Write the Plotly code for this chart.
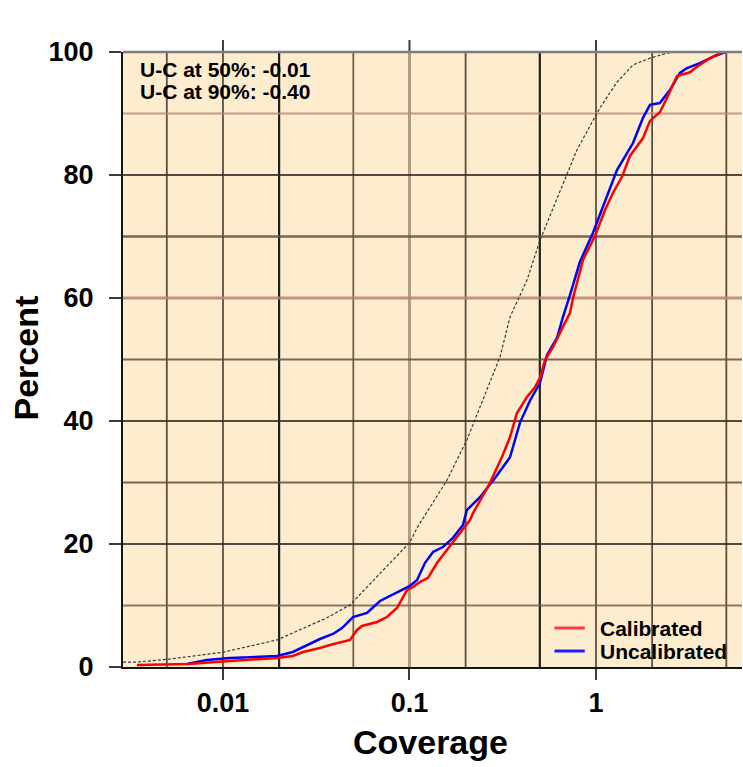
import plotly.graph_objects as go

# ---------------- data ----------------
calib_x = [0.00346, 0.00649, 0.0109, 0.0195, 0.0237, 0.0269, 0.0331, 0.0375, 0.048, 0.0523,
           0.0556, 0.067, 0.0757, 0.0857, 0.097, 0.1044, 0.1138, 0.1257, 0.1404, 0.165,
           0.1865, 0.211, 0.219, 0.270, 0.317, 0.346, 0.377, 0.4266, 0.471, 0.501,
           0.533, 0.588, 0.665, 0.726, 0.753, 0.852, 0.988, 1.118, 1.234, 1.379,
           1.521, 1.787, 1.948, 2.20, 2.40, 2.72, 3.19, 3.48, 4.09, 4.62, 4.9]
calib_y = [0.33, 0.49, 0.98, 1.46, 1.79, 2.44, 3.09, 3.58, 4.39, 6.02,
           6.67, 7.32, 8.13, 9.59, 12.5, 13.0, 13.8, 14.5, 16.9, 19.7,
           21.8, 23.9, 25.0, 29.9, 34.5, 37.4, 41.3, 43.9, 45.5, 47.0,
           49.9, 52.0, 55.3, 57.6, 60.0, 66.2, 70.1, 74.3, 77.1, 79.7,
           83.1, 86.0, 88.8, 90.2, 92.5, 96.1, 96.7, 97.6, 99.0, 99.8, 100.0]

uncal_x = [0.00641, 0.0082, 0.0109, 0.0195, 0.0237, 0.0282, 0.0331, 0.0389, 0.0435, 0.0498,
           0.0592, 0.0695, 0.0857, 0.1006, 0.1097, 0.121, 0.1337, 0.151, 0.171, 0.1936,
           0.203, 0.2387, 0.287, 0.346, 0.391, 0.4426, 0.501, 0.546, 0.618, 0.665,
           0.726, 0.821, 0.964, 1.09, 1.189, 1.296, 1.58, 1.787, 1.948, 2.20,
           2.49, 2.82, 3.08, 3.61, 4.24, 4.80, 4.95]
uncal_y = [0.49, 1.14, 1.46, 1.79, 2.44, 3.58, 4.55, 5.37, 6.34, 8.13,
           8.78, 10.73, 12.2, 13.2, 14.1, 16.9, 18.7, 19.5, 21.0, 23.1,
           25.5, 27.6, 30.7, 34.1, 39.7, 43.3, 46.2, 50.7, 53.5, 56.9,
           60.5, 65.9, 70.6, 74.8, 77.6, 80.8, 85.2, 89.3, 91.4, 91.7,
           93.8, 96.6, 97.4, 98.2, 99.2, 99.8, 100.0]

ref_x = [0.00291, 0.00346, 0.0052, 0.0100, 0.0195, 0.0361, 0.048, 0.1006, 0.1097, 0.159,
         0.203, 0.3056, 0.346, 0.4266, 0.501, 0.699, 0.791, 1.05, 1.296, 1.58,
         1.948, 2.40, 2.59]
ref_y = [0.8, 0.8, 1.3, 2.4, 4.4, 8.0, 10.1, 20.3, 22.6, 30.4,
         36.9, 50.4, 56.9, 62.9, 69.4, 80.3, 84.1, 90.9, 95.1, 97.9,
         99.0, 99.8, 100.0]

x_tick_vals = [0.01, 0.1, 1]
x_tick_text = ["0.01", "0.1", "1"]
y_tick_vals = [0, 20, 40, 60, 80, 100]

x_grid = [0.005, 0.01, 0.02, 0.05, 0.1, 0.2, 0.5, 1, 2, 5]
x_grid_color = ["rgba(50,40,32,0.8)", "rgba(50,40,32,0.8)", "rgba(15,15,10,0.92)",
                "rgba(60,48,40,0.75)", "rgba(160,135,110,0.8)", "rgba(50,40,32,0.8)",
                "rgba(15,15,10,0.92)", "rgba(50,40,32,0.8)", "rgba(50,40,32,0.8)",
                "rgba(50,40,32,0.8)"]
x_grid_width = [1.8, 1.8, 2.2, 1.8, 3, 1.8, 2.2, 1.8, 1.8, 1.8]

y_grid = [10, 20, 30, 40, 50, 60, 70, 80, 90]
y_grid_color = ["rgba(120,85,75,0.8)", "rgba(55,45,38,0.85)", "rgba(105,75,65,0.85)",
                "rgba(55,45,38,0.85)", "rgba(105,75,65,0.85)", "rgba(180,130,115,0.85)",
                "rgba(100,75,65,0.85)", "rgba(55,45,38,0.85)", "rgba(180,135,125,0.8)"]
y_grid_width = [1.8, 1.8, 2.2, 1.8, 2.2, 3, 2.5, 1.8, 2.2]

annot_lines = ["U-C at 50%: -0.01", "U-C at 90%: -0.40"]

legend_names = ["Calibrated", "Uncalibrated"]
legend_colors = ["rgb(255,60,60)", "rgb(30,30,255)"]

FONT = "Liberation Sans, Arial, Helvetica, sans-serif"
X_RANGE = [-2.536, 0.783]

fig = go.Figure()

fig.add_trace(go.Scatter(x=ref_x, y=ref_y, mode="lines", showlegend=False,
                         line=dict(color="rgb(60,55,50)", width=1.2, dash="3px,2px"),
                         hoverinfo="skip"))
fig.add_trace(go.Scatter(x=uncal_x, y=uncal_y, mode="lines", name="Uncalibrated",
                         showlegend=False, line=dict(color="rgb(0,0,255)", width=2.5)))
fig.add_trace(go.Scatter(x=calib_x, y=calib_y, mode="lines", name="Calibrated",
                         showlegend=False, line=dict(color="rgb(255,0,0)", width=2.5)))

shapes = []
for v, c, w in zip(x_grid, x_grid_color, x_grid_width):
    shapes.append(dict(type="line", xref="x", yref="y domain", x0=v, x1=v, y0=0, y1=1,
                       line=dict(color=c, width=w), layer="below"))
for v, c, w in zip(y_grid, y_grid_color, y_grid_width):
    shapes.append(dict(type="line", xref="x domain", yref="y", x0=0, x1=1, y0=v, y1=v,
                       line=dict(color=c, width=w), layer="below"))
# ticks on the top edge at the labelled x values (outside the plot area)
for v in x_tick_vals:
    shapes.append(dict(type="line", xref="x", yref="y domain", x0=v, x1=v, y0=1.0, y1=1.0195,
                       line=dict(color="rgb(60,60,60)", width=2)))
# top frame line (grey)
shapes.append(dict(type="line", xref="paper", yref="paper", x0=0, x1=1, y0=1, y1=1,
                   line=dict(color="rgb(125,125,125)", width=2.5)))

annotations = []
for i, t in enumerate(annot_lines):
    annotations.append(dict(text=t, xref="paper", yref="paper", x=0.024, y=0.972 - i * 0.036,
                            xanchor="left", yanchor="middle", showarrow=False,
                            font=dict(family=FONT, size=21, color="black", weight="bold")))
# manual legend
for i, (n, c) in enumerate(zip(legend_names, legend_colors)):
    ly = 0.0634 - i * 0.0374
    shapes.append(dict(type="line", xref="paper", yref="paper", x0=0.697, x1=0.746,
                       y0=ly, y1=ly, line=dict(color=c, width=3)))
    annotations.append(dict(text=n, xref="paper", yref="paper", x=0.767, y=ly,
                            xanchor="left", yanchor="middle", showarrow=False,
                            font=dict(family=FONT, size=21, color="black", weight="bold")))

annotations.append(dict(text="Coverage", xref="paper", yref="paper", x=0.497, y=-0.122,
                        xanchor="center", yanchor="middle", showarrow=False,
                        font=dict(family=FONT, size=34, color="black", weight="bold")))
annotations.append(dict(text="Percent", xref="paper", yref="paper", x=-0.157, y=0.503,
                        xanchor="center", yanchor="middle", showarrow=False, textangle=-90,
                        font=dict(family=FONT, size=34, color="black", weight="bold")))

fig.update_layout(
    width=743, height=767,
    margin=dict(l=123, r=1, t=52, b=100),
    paper_bgcolor="white",
    plot_bgcolor="rgb(253,236,206)",
    font=dict(family=FONT, color="black"),
    shapes=shapes,
    annotations=annotations,
    showlegend=False,
    xaxis=dict(type="log", range=X_RANGE, tickvals=x_tick_vals, ticktext=x_tick_text,
               ticks="outside", ticklen=11, tickwidth=2, tickcolor="rgb(60,60,60)",
               showline=True, linecolor="rgb(20,20,20)", linewidth=2,
               showgrid=False, zeroline=False,
               tickfont=dict(family=FONT, size=27, color="black", weight="bold")),
    yaxis=dict(range=[0, 100], tickvals=y_tick_vals,
               ticks="outside", ticklen=12, tickwidth=2, tickcolor="rgb(60,60,60)",
               showline=True, linecolor="rgb(20,20,20)", linewidth=2,
               showgrid=False, zeroline=False, ticklabelstandoff=10,
               tickfont=dict(family=FONT, size=27, color="black", weight="bold")),
)

fig.write_html("out.html")
